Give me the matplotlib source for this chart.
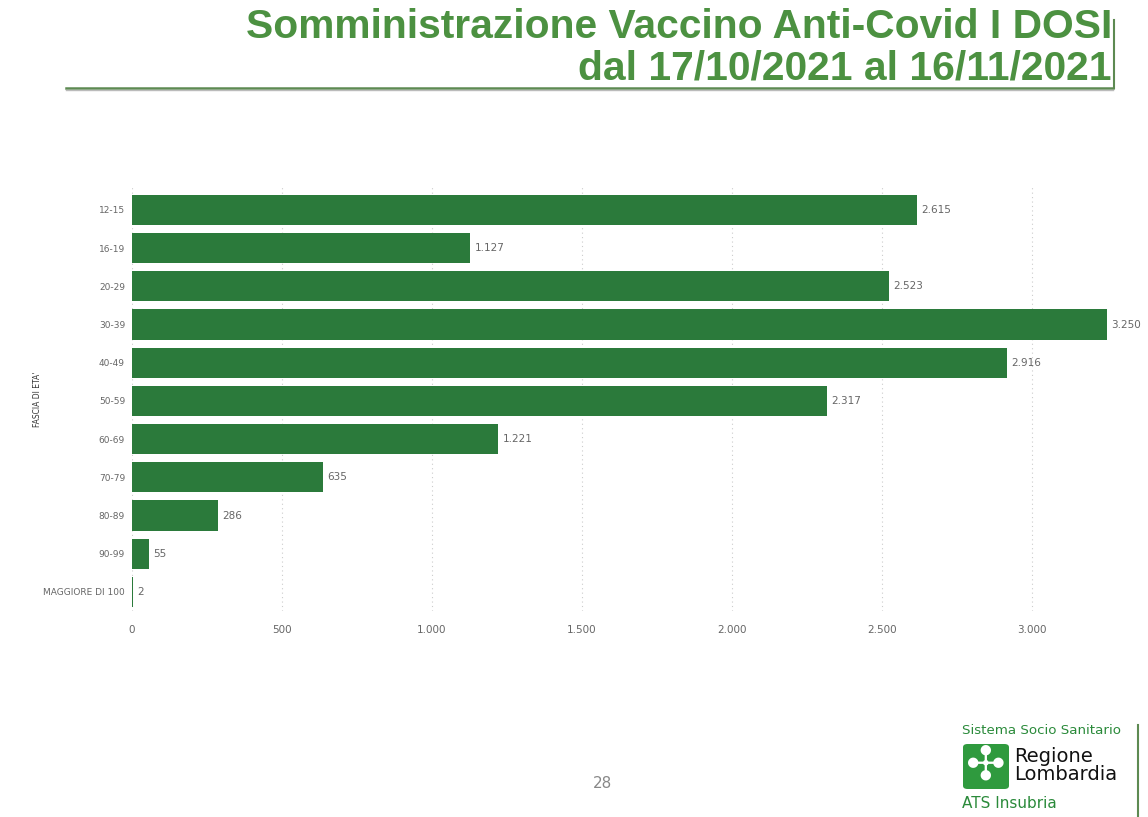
import matplotlib
matplotlib.use("Agg")
import matplotlib.pyplot as plt
from matplotlib.patches import FancyBboxPatch

# data
fasce = ['12-15', '16-19', '20-29', '30-39', '40-49', '50-59', '60-69',
         '70-79', '80-89', '90-99', 'MAGGIORE DI 100']
dosi = [2615, 1127, 2523, 3250, 2916, 2317, 1221, 635, 286, 55, 2]
xticks = [0, 500, 1000, 1500, 2000, 2500, 3000]

BAR = '#2b7a3b'
TITLE_GREEN = '#4c9141'
GREY = '#666666'


def fmt(v):
    return f"{v:,}".replace(',', '.')


W, H = 1148, 817
fig = plt.figure(figsize=(W / 100, H / 100), dpi=100)

# axes: x=0 at px 132, x=3000 at px 1032
x0, x1 = 132, 1110
y_top, y_bot = 187, 611
ax = fig.add_axes([x0 / W, 1 - y_bot / H, (x1 - x0) / W, (y_bot - y_top) / H])
xmax = (x1 - x0) / 900 * 3000

ypos = list(range(len(fasce)))
ax.barh(ypos, dosi, height=0.79, color=BAR, zorder=3)
for y, v in zip(ypos, dosi):
    ax.text(v + 15, y, fmt(v), va='center', ha='left', fontsize=7.5, color=GREY)

ax.set_xlim(0, xmax)
ax.set_ylim(len(fasce) - 0.5, -0.6)
ax.set_xticks(xticks)
ax.set_xticklabels([fmt(t) for t in xticks], fontsize=7.5, color=GREY)
ax.set_yticks(ypos)
ax.set_yticklabels(fasce, fontsize=6.5, color=GREY)
ax.tick_params(length=0, pad=10)
ax.tick_params(axis='y', pad=5)
ax.grid(axis='x', linestyle=(0, (1, 3)), color='#cccccc', linewidth=0.8, zorder=0)
for s in ax.spines.values():
    s.set_visible(False)
ax.set_ylabel("FASCIA DI ETA'", fontsize=5.5, color='#333333')
ax.yaxis.set_label_coords(-(132 - 42) / (x1 - x0), 0.5)

# title
fig.text(1112 / W, 1 - 27 / H, 'Somministrazione Vaccino Anti-Covid I DOSI',
         ha='right', va='center', fontsize=29.3, fontweight='bold',
         color=TITLE_GREEN, family='Liberation Sans')
fig.text(1112 / W, 1 - 68 / H, 'dal 17/10/2021 al 16/11/2021',
         ha='right', va='center', fontsize=29.3, fontweight='bold',
         color=TITLE_GREEN, family='Liberation Sans')
fig.add_artist(plt.Line2D([66 / W, 1113 / W], [1 - 88 / H] * 2,
                          color='#5d8a52', linewidth=1.8))
fig.add_artist(plt.Line2D([66 / W, 1113 / W], [1 - 90 / H] * 2,
                          color='#bbbbbb', linewidth=1))
fig.add_artist(plt.Line2D([1114 / W] * 2, [1 - 20 / H, 1 - 88 / H],
                          color='#5d8a52', linewidth=1.5))

# page number
fig.text(602 / W, 1 - 783 / H, '28', ha='center', va='center',
         fontsize=11, color='#888888')

# logo block
fig.text(962 / W, 1 - 731 / H, 'Sistema Socio Sanitario', ha='left',
         va='center', fontsize=9.6, color='#2a8a3a')
fig.add_artist(FancyBboxPatch((963 / W, 1 - 789 / H), 46 / W, 45 / H,
                              boxstyle='round,pad=0,rounding_size=0.004',
                              transform=fig.transFigure, facecolor='#2f9a3e',
                              edgecolor='none'))
fig.text(986 / W, 1 - 767 / H, '✣', ha='center', va='center', fontsize=34,
         color='white', family='DejaVu Sans')
fig.text(1014 / W, 1 - 757 / H, 'Regione', ha='left', va='center',
         fontsize=14, color='#111111')
fig.text(1014 / W, 1 - 775 / H, 'Lombardia', ha='left', va='center',
         fontsize=14, color='#111111')
fig.text(962 / W, 1 - 803 / H, 'ATS Insubria', ha='left', va='center',
         fontsize=11, color='#2a8a3a')
fig.add_artist(plt.Line2D([1138 / W] * 2, [0, 1 - 725 / H],
                          color='#5d8a52', linewidth=1.5))

fig.savefig('out.png', dpi=100)
